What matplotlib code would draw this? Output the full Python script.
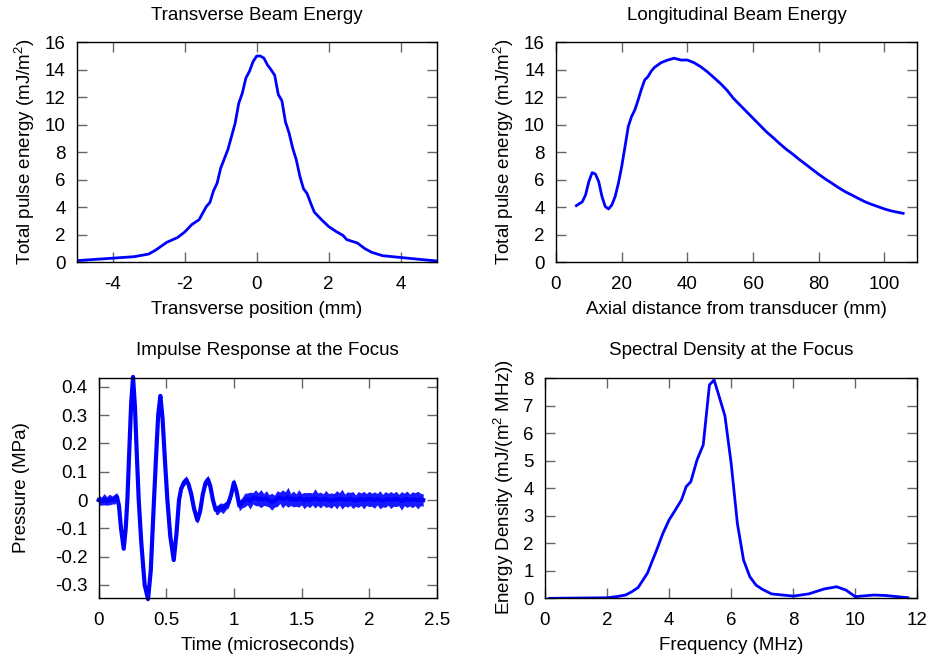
import matplotlib
matplotlib.use("Agg")
import matplotlib.pyplot as plt
import numpy as np
from matplotlib.ticker import FuncFormatter

plt.rcParams['font.family'] = ['Liberation Sans', 'DejaVu Sans']
plt.rcParams['mathtext.fontset'] = 'custom'
plt.rcParams['mathtext.rm'] = 'Liberation Sans'
plt.rcParams['mathtext.it'] = 'Liberation Sans'
plt.rcParams['axes.unicode_minus'] = False

# ---------------- data ----------------
trans_x = [-5.0, -4.0, -3.4, -3.0, -2.8, -2.5, -2.2, -2.0, -1.8, -1.6, -1.4, -1.3, -1.2,
           -1.1, -1.0, -0.8, -0.6, -0.5, -0.4, -0.3, -0.2, -0.1, 0.0, 0.1, 0.2, 0.3, 0.4,
           0.5, 0.6, 0.7, 0.8, 0.9, 1.0, 1.1, 1.2, 1.3, 1.4, 1.5, 1.6, 1.8, 2.0, 2.2, 2.4,
           2.5, 2.8, 3.0, 3.2, 3.5, 4.0, 4.5, 5.0]
trans_e = [0.12, 0.30, 0.41, 0.60, 0.90, 1.45, 1.80, 2.20, 2.75, 3.10, 4.05, 4.35, 5.20,
           5.75, 6.85, 8.20, 10.1, 11.55, 12.3, 13.4, 13.9, 14.6, 15.0, 15.0, 14.85, 14.35,
           14.0, 13.6, 12.2, 11.75, 10.2, 9.4, 8.3, 7.45, 6.25, 5.35, 5.0, 4.3, 3.65, 3.1,
           2.6, 2.25, 1.95, 1.65, 1.4, 1.0, 0.72, 0.48, 0.35, 0.22, 0.10]

long_x = [6.2, 8, 9, 10, 11, 12, 13, 14, 15, 16, 17, 18, 19, 20, 21, 22, 23, 24, 25, 26,
          27, 28, 29, 30, 32, 34, 36, 38, 40, 42, 44, 46, 48, 50, 52, 54, 56, 58, 60, 62,
          64, 66, 68, 70, 72, 74, 76, 78, 80, 82, 84, 86, 88, 90, 92, 94, 96, 98, 100,
          102, 104, 105.7]
long_e = [4.12, 4.4, 4.9, 5.87, 6.52, 6.42, 5.87, 4.78, 4.05, 3.88, 4.17, 4.78, 5.75,
          6.96, 8.4, 9.87, 10.6, 11.08, 11.8, 12.58, 13.26, 13.5, 13.9, 14.18, 14.52,
          14.71, 14.84, 14.71, 14.71, 14.52, 14.23, 13.87, 13.45, 13.02, 12.53, 11.93,
          11.44, 10.96, 10.47, 9.99, 9.5, 9.09, 8.65, 8.24, 7.88, 7.49, 7.13, 6.76, 6.4,
          6.06, 5.75, 5.43, 5.14, 4.9, 4.65, 4.41, 4.22, 4.05, 3.88, 3.74, 3.64, 3.56]

# impulse response: centre line and half-width of the noise band
imp_t = [0.00, 0.02, 0.04, 0.06, 0.08, 0.10, 0.12, 0.135, 0.15, 0.165, 0.185, 0.20,
         0.212, 0.225, 0.24, 0.254, 0.268, 0.282, 0.296, 0.315, 0.34, 0.365, 0.385,
         0.409, 0.425, 0.44, 0.456, 0.472, 0.49, 0.508, 0.53, 0.555, 0.575, 0.594, 0.61,
         0.63, 0.648, 0.665, 0.685, 0.705, 0.73, 0.75, 0.77, 0.79, 0.808, 0.825, 0.845,
         0.865, 0.88, 0.90, 0.92, 0.94, 0.96, 0.98, 1.00, 1.02, 1.04, 1.06, 1.08,
         1.10, 1.12, 1.14, 1.16, 1.18, 1.20, 1.22, 1.24, 1.26, 1.28, 1.30, 1.32, 1.34,
         1.36, 1.38, 1.40, 1.42, 1.44, 1.46, 1.48, 1.50, 1.52, 1.54, 1.56, 1.58, 1.60,
         1.62, 1.64, 1.66, 1.68, 1.70, 1.72, 1.74, 1.76, 1.78, 1.80, 1.82, 1.84, 1.86,
         1.88, 1.90, 1.92, 1.94, 1.96, 1.98, 2.00, 2.02, 2.04, 2.06, 2.08, 2.10, 2.12,
         2.14, 2.16, 2.18, 2.20, 2.22, 2.24, 2.26, 2.28, 2.30, 2.32, 2.34, 2.36, 2.38,
         2.40]
imp_p = [0.0, -0.004, 0.003, -0.003, 0.002, 0.0, 0.004, 0.012, -0.02, -0.10, -0.172,
         -0.10, 0.0, 0.16, 0.34, 0.435, 0.33, 0.16, 0.0, -0.15, -0.30, -0.350, -0.25,
         0.0, 0.16, 0.30, 0.368, 0.29, 0.14, 0.0, -0.13, -0.212, -0.12, 0.0, 0.04, 0.062,
         0.072, 0.055, 0.02, -0.03, -0.072, -0.04, 0.02, 0.06, 0.073, 0.05, 0.0, -0.035,
         -0.035, -0.025, -0.03, -0.02, -0.01, 0.02, 0.062, 0.03, -0.02, -0.01, 0.0,
         0.004, -0.002, 0.006, 0.008, 0.003, 0.005, 0.002, 0.006, -0.003, -0.006, -0.004,
         0.005, 0.008, 0.004, 0.006, 0.01, 0.002, 0.004, 0.0, 0.006, 0.003, -0.002, 0.003,
         0.0, 0.004, 0.006, 0.003, 0.0, 0.002, 0.004, 0.0, -0.002, 0.002, 0.001, 0.004,
         0.003, 0.0, 0.002, 0.004, 0.0, -0.002, 0.002, 0.003, 0.0, 0.002, 0.004, 0.001,
         0.0, 0.003, 0.001, -0.002, 0.002, 0.003, 0.0, 0.001, 0.004, 0.0, -0.003, 0.002,
         0.003, 0.0, 0.001, 0.003, 0.0, 0.002, 0.0]
imp_noise = [0.018, 0.014, 0.020, 0.015, 0.019, 0.014, 0.018, 0.014, 0.010, 0.008,
             0.008, 0.008, 0.006, 0.006, 0.006, 0.006, 0.006, 0.006, 0.006, 0.006,
             0.006, 0.006, 0.006, 0.006, 0.006, 0.006, 0.006, 0.006, 0.006, 0.006,
             0.006, 0.006, 0.006, 0.008, 0.010, 0.012, 0.014, 0.012, 0.011, 0.011,
             0.012, 0.011, 0.012, 0.013, 0.015, 0.012, 0.012, 0.015, 0.017, 0.015,
             0.018, 0.015, 0.017, 0.015, 0.014, 0.016, 0.019, 0.018, 0.024,
             0.021, 0.030, 0.020, 0.028, 0.023, 0.032, 0.021, 0.027, 0.022, 0.030,
             0.021, 0.028, 0.020, 0.032, 0.023, 0.035, 0.021, 0.028, 0.022, 0.031,
             0.020, 0.029, 0.023, 0.027, 0.021, 0.034, 0.022, 0.028, 0.020, 0.030,
             0.023, 0.027, 0.021, 0.032, 0.022, 0.035, 0.021, 0.027, 0.023, 0.030,
             0.020, 0.028, 0.022, 0.031, 0.021, 0.027, 0.023, 0.029, 0.020, 0.032,
             0.022, 0.028, 0.021, 0.030, 0.023, 0.027, 0.020, 0.033, 0.022, 0.029,
             0.021, 0.028, 0.023, 0.031, 0.022, 0.022]

spec_f = [0.15, 2.0, 2.3, 2.6, 2.8, 3.0, 3.3, 3.6, 3.8, 4.0, 4.2, 4.4, 4.55, 4.7, 4.9,
          5.1, 5.3, 5.45, 5.6, 5.8, 6.0, 6.2, 6.4, 6.6, 6.8, 7.0, 7.3, 8.0, 8.5, 9.0,
          9.4, 9.7, 10.0, 10.6, 11.0, 11.7]
spec_d = [0.0, 0.02, 0.06, 0.12, 0.24, 0.39, 0.91, 1.76, 2.36, 2.85, 3.21, 3.58, 4.06,
          4.24, 5.03, 5.58, 7.76, 7.94, 7.39, 6.63, 4.91, 2.73, 1.39, 0.79, 0.48, 0.33,
          0.16, 0.08, 0.16, 0.34, 0.42, 0.3, 0.06, 0.12, 0.1, 0.02]

# ---------------- figure ----------------
W, H = 929, 663
fig = plt.figure(figsize=(W / 100, H / 100), dpi=100)
FS = 13.5
BLUE = '#0000ff'


def make_ax(left, right, top, bottom):
    ax = fig.add_axes([left / W, (H - bottom) / H, (right - left) / W, (bottom - top) / H])
    ax.tick_params(direction='in', top=True, right=True, length=7, width=1,
                   color='#666666', labelsize=FS, pad=8)
    ax.tick_params(axis='x', pad=10)
    for s in ax.spines.values():
        s.set_linewidth(1.0)
        s.set_color('black')
    return ax


def ftext(x, y, s, rot=0):
    fig.text(x / W, 1 - y / H, s, ha='center', va='center', fontsize=FS, rotation=rot)


gfmt = FuncFormatter(lambda v, p: ('%g' % round(v, 6)))

# Transverse
ax1 = make_ax(76.7, 436.7, 42.3, 262.3)
ax1.plot(trans_x, trans_e, color=BLUE, lw=2)
ax1.set_xlim(-5, 5)
ax1.set_ylim(0, 16)
ax1.set_xticks([-4, -2, 0, 2, 4])
ax1.set_yticks(range(0, 17, 2))
ax1.xaxis.set_major_formatter(gfmt)
ftext(256.7, 15, 'Transverse Beam Energy')
ftext(256.7, 310, 'Transverse position (mm)')
ftext(25, 152, r'Total pulse energy (mJ/m$^2$)', rot=90)

# Longitudinal
ax2 = make_ax(556, 917.3, 42.3, 262.3)
ax2.plot(long_x, long_e, color=BLUE, lw=2)
ax2.set_xlim(0, 110)
ax2.set_ylim(0, 16)
ax2.set_xticks(range(0, 101, 20))
ax2.set_yticks(range(0, 17, 2))
ftext(736.5, 15, 'Longitudinal Beam Energy')
ftext(736.5, 310, 'Axial distance from transducer (mm)')
ftext(504, 152, r'Total pulse energy (mJ/m$^2$)', rot=90)

# Impulse response
ax3 = make_ax(98.7, 436.7, 378.3, 598.3)
t = np.array(imp_t)
p = np.array(imp_p)
n = np.array(imp_noise)
ax3.fill_between(t, p - n, p + n, color=BLUE, alpha=0.9, lw=0)
ax3.plot(t, p, color=BLUE, lw=3.0)
ax3.set_xlim(0, 2.5)
ax3.set_ylim(-0.347, 0.43)
ax3.set_xticks([0, 0.5, 1, 1.5, 2, 2.5])
ax3.set_yticks([-0.3, -0.2, -0.1, 0, 0.1, 0.2, 0.3, 0.4])
ax3.xaxis.set_major_formatter(gfmt)
ax3.yaxis.set_major_formatter(gfmt)
for ln in ax3.lines + ax3.collections:
    ln.set_clip_on(False)
ftext(267.7, 350.7, 'Impulse Response at the Focus')
ftext(267.7, 645, 'Time (microseconds)')
ftext(21.7, 488, 'Pressure (MPa)', rot=90)

# Spectral density
ax4 = make_ax(545, 917.3, 378.3, 598.3)
ax4.plot(spec_f, spec_d, color=BLUE, lw=2)
ax4.set_xlim(0, 12)
ax4.set_ylim(0, 8)
ax4.set_xticks(range(0, 13, 2))
ax4.set_yticks(range(0, 9))
ftext(731, 350.7, 'Spectral Density at the Focus')
ftext(731, 645, 'Frequency (MHz)')
ftext(504, 487.5, r'Energy Density (mJ/(m$^2$ MHz))', rot=90)

fig.savefig('out.png', dpi=100)
